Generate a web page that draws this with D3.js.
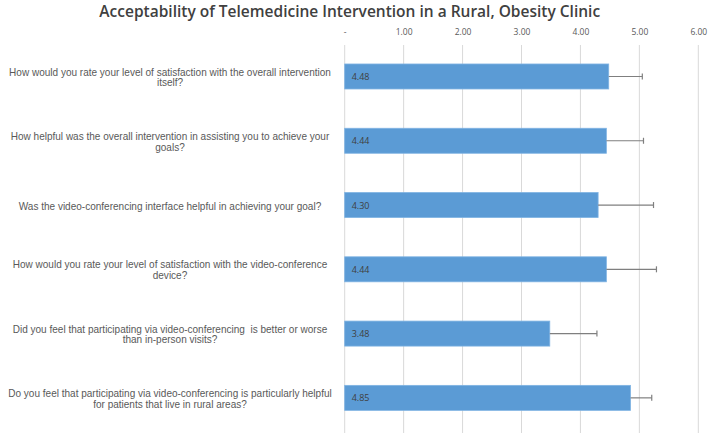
<!DOCTYPE html>
<html>
<head>
<meta charset="utf-8">
<script src="https://cdn.jsdelivr.net/npm/d3@7"></script>
<style>
  html, body { margin: 0; padding: 0; background: #fff; }
  svg { display: block; }
  text { white-space: pre; }
</style>
</head>
<body>
<div id="chart"></div>
<script>
const title = "Acceptability of Telemedicine Intervention in a Rural, Obesity Clinic";
const categories = [
  ["How would you rate your level of satisfaction with the overall intervention", "itself?"],
  ["How helpful was the overall intervention in assisting you to achieve your", "goals?"],
  ["Was the video-conferencing interface helpful in achieving your goal?"],
  ["How would you rate your level of satisfaction with the video-conference", "device?"],
  ["Did you feel that participating via video-conferencing  is better or worse", "than in-person visits?"],
  ["Do you feel that participating via video-conferencing is particularly helpful", "for patients that live in rural areas?"]
];
const means = [4.48, 4.44, 4.30, 4.44, 3.48, 4.85];
const errors = [0.57, 0.63, 0.94, 0.85, 0.80, 0.36];
const tickValues = [0, 1, 2, 3, 4, 5, 6];
const tickLabels = ["-", "1.00", "2.00", "3.00", "4.00", "5.00", "6.00"];

const W = 709, H = 433;
const svg = d3.select("#chart").append("svg").attr("width", W).attr("height", H);

const x = d3.scaleLinear().domain([0, 6]).range([344.7, 698.3]);
const y = d3.scaleBand().domain(d3.range(categories.length))
  .range([44.35, 430]).paddingInner(0.611).paddingOuter(0.3055);

// title
const t = svg.append("text")
  .attr("x", 349.7).attr("y", 17)
  .attr("text-anchor", "middle")
  .attr("font-family", "'Open Sans', Lato, sans-serif")
  .attr("font-weight", 600)
  .attr("font-size", 18)
  .attr("fill", "#404040")
  .text(title);
const tw = t.node().getComputedTextLength();
t.attr("font-size", 18 * 501 / tw);

// gridlines
svg.append("g").selectAll("line").data(tickValues).join("line")
  .attr("x1", d => x(d)).attr("x2", d => x(d))
  .attr("y1", 45).attr("y2", H)
  .attr("stroke", "#d9d9d9").attr("stroke-width", 1);

// top axis tick labels
const xAxis = d3.axisTop(x).tickValues(tickValues)
  .tickFormat((d, i) => tickLabels[i]).tickSize(0).tickPadding(0);
const ax = svg.append("g").attr("transform", "translate(0,35)").call(xAxis);
ax.select(".domain").remove();
ax.selectAll("text")
  .attr("font-family", "'Open Sans', Lato, sans-serif")
  .attr("font-size", 8.5)
  .attr("fill", "#595959")
  .attr("dy", 0);

// category labels
const catG = svg.append("g");
const lineH = 10.8;
categories.forEach((lines, i) => {
  const cy = y(i) + y.bandwidth() / 2;
  const n = lines.length;
  const txt = catG.append("text")
    .attr("font-family", "'Liberation Sans', Arial, sans-serif")
    .attr("font-size", 10)
    .attr("fill", "#595959")
    .attr("text-anchor", "middle");
  lines.forEach((ln, j) => {
    txt.append("tspan")
      .attr("x", 170)
      .attr("y", cy + (j - (n - 1) / 2) * lineH + 4.5)
      .text(ln);
  });
});
let maxW = 0;
catG.selectAll("tspan").each(function () { maxW = Math.max(maxW, this.getComputedTextLength()); });
catG.selectAll("text").attr("font-size", 10 * 324 / maxW);

// bars
svg.append("g").selectAll("rect").data(means).join("rect")
  .attr("x", x(0))
  .attr("y", (d, i) => y(i))
  .attr("width", d => x(d) - x(0))
  .attr("height", y.bandwidth())
  .attr("fill", "#5b9bd5")
  .attr("stroke", "#7fb3e3")
  .attr("stroke-width", 0.8);

// error bars
const eg = svg.append("g").attr("stroke", "#7f7f7f").attr("stroke-width", 1.2);
means.forEach((m, i) => {
  const cy = y(i) + y.bandwidth() / 2;
  eg.append("line").attr("x1", x(m)).attr("x2", x(m + errors[i])).attr("y1", cy).attr("y2", cy);
  eg.append("line").attr("x1", x(m + errors[i])).attr("x2", x(m + errors[i]))
    .attr("y1", cy - 3).attr("y2", cy + 3);
});

// value labels
svg.append("g").selectAll("text").data(means).join("text")
  .attr("x", x(0) + 7)
  .attr("y", (d, i) => y(i) + y.bandwidth() / 2 + 3.5)
  .attr("font-family", "'Open Sans', Lato, sans-serif")
  .attr("font-size", 9)
  .attr("fill", "#404040")
  .text(d => d.toFixed(2));
</script>
</body>
</html>
